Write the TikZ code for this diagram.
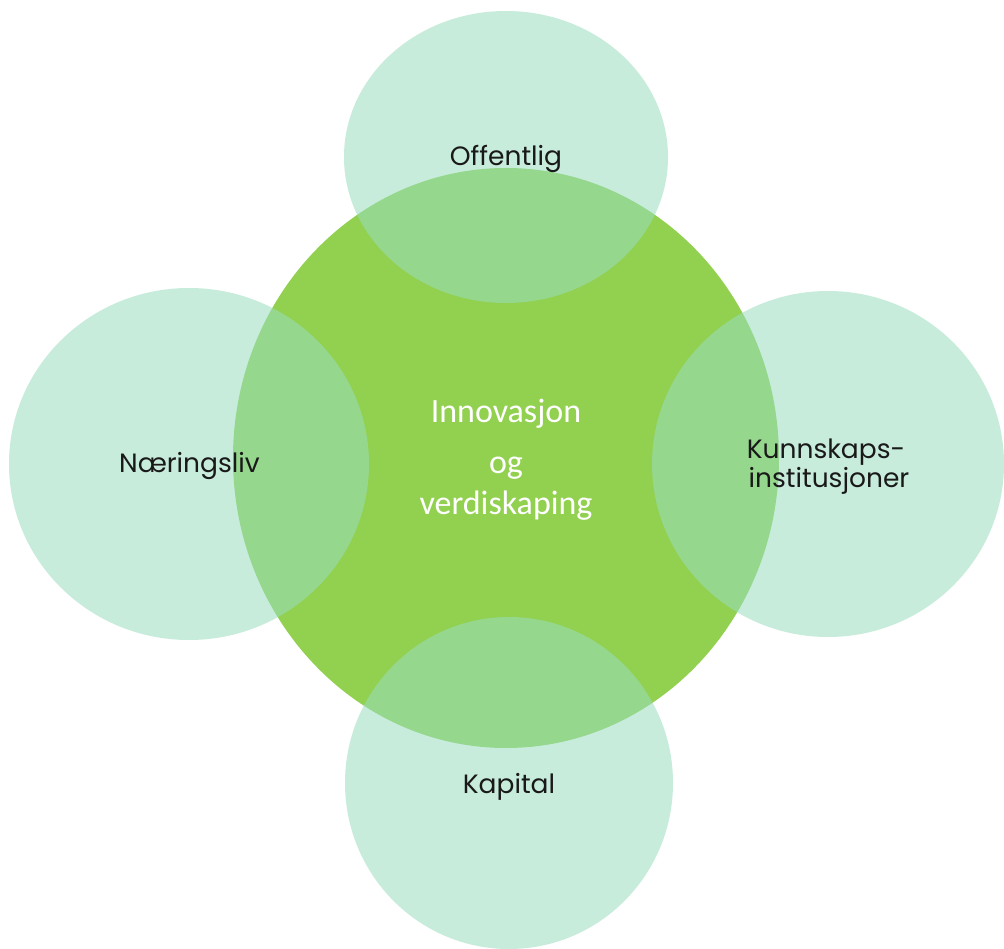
\documentclass[tikz,border=0pt]{standalone}
\usepackage{fontspec}
\setmainfont{Poppins}
\newfontfamily\centerfont{Carlito}
\definecolor{maingreen}{RGB}{146,208,80}
\definecolor{mint}{RGB}{153,222,190}
\begin{document}
\begin{tikzpicture}[x=1pt,y=-1pt,
  outer/.style={fill=mint,fill opacity=0.55,draw=none},
  lbl/.style={font=\fontsize{26.5}{32}\selectfont,text=black!90,anchor=base,inner sep=0pt},
  clbl/.style={font=\centerfont\fontsize{34}{40}\selectfont,text=white,anchor=base,inner sep=0pt}]
\useasboundingbox (0,0) rectangle (1004,949);
\fill[white] (0,0) rectangle (1004,949);
\fill[maingreen] (506,458) ellipse [x radius=273, y radius=290];
\path[outer] (506,157) ellipse [x radius=162, y radius=146];
\path[outer] (189,464) ellipse [x radius=180, y radius=176];
\path[outer] (828,464) ellipse [x radius=176, y radius=173];
\path[outer] (509,783) ellipse [x radius=164, y radius=166];
\node[lbl] (off) at (506,166) {Offentlig};
\node[lbl] (nar) at (189.5,472) {Næringsliv};
\node[lbl] (kun1) at (826,458) {Kunnskaps-};
\node[lbl] (kun2) at (829,487) {institusjoner};
\node[lbl] (kap) at (509,793) {Kapital};
\node[clbl] (c1) at (506,422) {Innovasjon};
\node[clbl] (c2) at (506,473) {og};
\node[clbl] (c3) at (506,514) {verdiskaping};
\end{tikzpicture}
\end{document}
